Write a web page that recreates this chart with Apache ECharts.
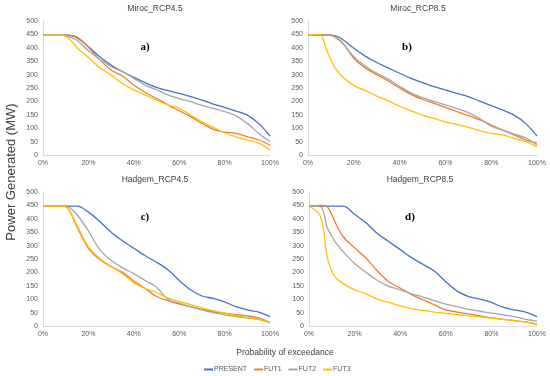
<!DOCTYPE html>
<html><head><meta charset="utf-8">
<script src="https://cdn.jsdelivr.net/npm/echarts@6/dist/echarts.min.js"></script>
<style>html,body{margin:0;padding:0;background:#fff}#c{width:550px;height:376px}</style>
</head><body><div id="c"></div>
<script>
// Probability of exceedance (%) sample positions
const X = [0,5,8,10,12,15,20,25,30,35,40,45,50,55,60,65,70,75,80,85,90,95,100];
const seriesNames = ['PRESENT','FUT1','FUT2','FUT3'];
const panelTitles = ['Miroc_RCP4.5','Miroc_RCP8.5','Hadgem_RCP4.5','Hadgem_RCP8.5'];
const panelTags = ['a)','b)','c)','d)'];
const xTicks = [0,20,40,60,80,100];

// a) Miroc_RCP4.5
const a_PRESENT = [447,447,447,447,446,438,404,367,336,311,290,270,252,240,230,218,205,190,178,164,149,118,71];
const a_FUT1    = [447,447,447,447,446,440,402,355,317,295,261,233,211,187,165,143,118,96,85,81,68,56,37];
const a_FUT2    = [447,447,447,445,440,428,389,357,330,311,286,261,243,224,210,199,185,174,162,146,118,81,50];
const a_FUT3    = [447,447,447,443,430,400,364,326,298,267,243,224,205,187,174,149,124,103,83,68,56,44,19];
// b) Miroc_RCP8.5
const b_PRESENT = [447,447,447,447,445,432,398,369,345,325,305,286,270,255,243,230,218,201,184,168,149,118,71];
const b_FUT1    = [447,448,448,448,440,420,361,325,300,276,250,226,208,193,178,162,147,131,112,93,75,56,44];
const b_FUT2    = [447,447,447,445,438,418,367,332,305,283,256,232,214,200,187,173,158,136,108,93,78,64,37];
const b_FUT3    = [447,450,395,355,323,292,260,240,220,202,182,165,149,137,124,114,103,91,81,75,62,50,31];
// c) Hadgem_RCP4.5
const c_PRESENT = [447,447,447,447,447,447,425,390,350,318,290,262,238,210,170,135,112,103,90,72,60,52,35];
const c_FUT1    = [447,447,447,445,425,370,290,248,222,200,168,140,110,95,82,72,62,53,48,42,38,30,12];
const c_FUT2    = [447,447,447,447,440,415,355,285,245,218,195,170,145,100,85,72,60,50,42,35,30,25,13];
const c_FUT3    = [447,447,447,445,425,375,295,252,222,195,162,140,125,105,92,80,68,57,48,38,32,25,15];
// d) Hadgem_RCP8.5
const d_PRESENT = [447,447,447,447,447,447,417,385,345,315,285,255,230,205,165,130,110,100,88,70,60,52,35];
const d_FUT1    = [447,450,445,415,378,333,292,254,205,165,142,117,98,79,60,52,45,38,30,25,20,15,5];
const d_FUT2    = [447,445,367,335,308,277,233,200,170,148,135,120,108,95,82,72,62,55,48,42,35,25,18];
const d_FUT3    = [447,410,256,205,178,158,135,120,100,88,75,65,58,52,47,42,38,34,30,25,20,15,8];

const panels = [
  [a_PRESENT,a_FUT1,a_FUT2,a_FUT3],
  [b_PRESENT,b_FUT1,b_FUT2,b_FUT3],
  [c_PRESENT,c_FUT1,c_FUT2,c_FUT3],
  [d_PRESENT,d_FUT1,d_FUT2,d_FUT3]
];
const colors = ['#4472C4','#ED7D31','#A5A5A5','#FFC000'];

const grids = [
  {left:43, top:21, width:227, height:134},
  {left:308, top:21, width:229, height:134},
  {left:43, top:192, width:227, height:134},
  {left:309, top:192, width:228, height:134}
];
const font = 'Liberation Sans, Arial, sans-serif';
const axisColor = '#d9d9d9';
const labColor = '#595959';

const xAxis = grids.map((g,i)=>({
  gridIndex:i, type:'value', min:0, max:100, interval:20,
  axisLine:{show:true, lineStyle:{color:axisColor}}, axisTick:{show:false},
  splitLine:{show:false},
  axisLabel:{formatter:'{value}%', fontSize:7, color:labColor, fontFamily:font, margin:5}
}));
const yAxis = grids.map((g,i)=>({
  gridIndex:i, type:'value', min:0, max:500, interval:50,
  axisLine:{show:true, lineStyle:{color:axisColor}}, axisTick:{show:false},
  splitLine:{show:false},
  axisLabel:{fontSize:7, color:labColor, fontFamily:font, margin:5}
}));
const series = [];
panels.forEach((p,pi)=>{
  p.forEach((arr,si)=>{
    series.push({
      name:seriesNames[si], type:'line', xAxisIndex:pi, yAxisIndex:pi,
      data:X.map((x,k)=>[x,arr[k]]), smooth:0.35, symbol:'none',
      lineStyle:{width:1.3, color:colors[si]}, itemStyle:{color:colors[si]},
      z:2+si
    });
  });
});
const titleCenters = [[155,9],[418,9],[155,180],[420,180]];
const tagPos = [[145,47],[407,47],[145,217],[410,217]];
const graphic = [];
panelTitles.forEach((t,i)=>{
  graphic.push({type:'text', x:titleCenters[i][0], y:titleCenters[i][1],
    style:{text:t, fontSize:8.5, fill:'#404040', fontFamily:font, align:'center', verticalAlign:'middle'}});
  graphic.push({type:'text', x:tagPos[i][0], y:tagPos[i][1],
    style:{text:panelTags[i], fontSize:11, fontWeight:'bold', fill:'#000', fontFamily:'Liberation Serif, Times New Roman, serif', align:'center', verticalAlign:'middle'}});
});
graphic.push({type:'text', x:11, y:172, rotation:Math.PI/2,
  style:{text:'Power Generated (MW)', fontSize:13, fill:'#404040', fontFamily:font, align:'center', verticalAlign:'middle'}});
graphic.push({type:'text', x:285, y:353,
  style:{text:'Probability of exceedance', fontSize:8.5, fill:'#404040', fontFamily:font, align:'center', verticalAlign:'middle'}});

const chart = echarts.init(document.getElementById('c'), null, {renderer:'canvas'});
chart.setOption({
  animation:false,
  grid:grids,
  xAxis:xAxis, yAxis:yAxis, series:series, graphic:graphic,
  legend:{data:seriesNames, left:199, top:361, itemWidth:9, itemHeight:2, itemGap:7,
    icon:'rect', textStyle:{fontSize:7, color:labColor, fontFamily:font, padding:[0,0,0,-4]}}
});
</script></body></html>
